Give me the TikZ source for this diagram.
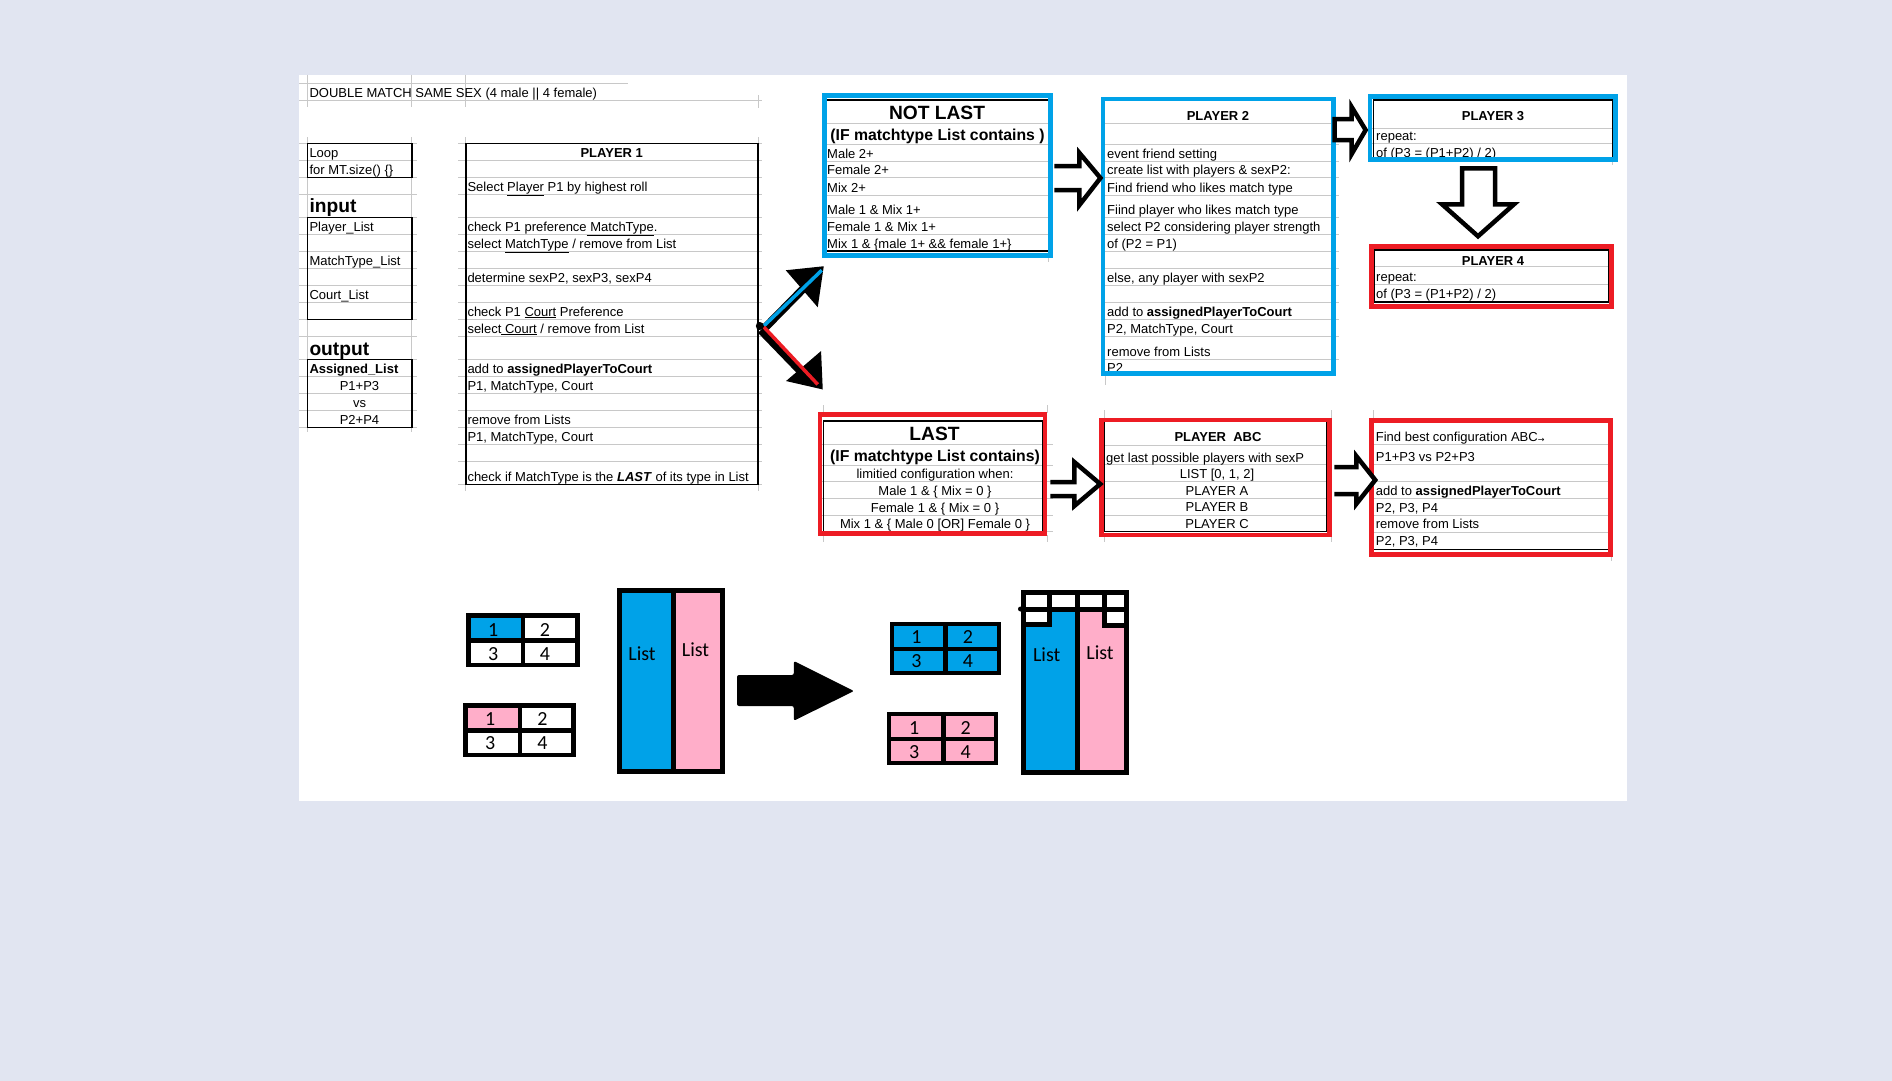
\documentclass[tikz,border=0pt]{standalone}
\usepackage{fontspec}
\setmainfont{Liberation Sans}
\newfontfamily\paintfnt{Carlito}
\newfontfamily\arrowfnt{DejaVu Sans}
\usetikzlibrary{calc}
\definecolor{bgc}{HTML}{E1E5F1}
\definecolor{pblue}{HTML}{00A2E8}
\definecolor{ppink}{HTML}{FFAEC9}
\definecolor{pred}{HTML}{ED1C24}
\definecolor{gridc}{HTML}{C8C8C8}
\newcommand{\sheetfnt}{\fontsize{13}{15}\selectfont}
\newcommand{\hugebold}{\fontsize{19.2}{22}\selectfont\bfseries}
\newcommand{\midbold}{\fontsize{15.8}{18}\selectfont\bfseries}
\newcommand{\paintsz}{\paintfnt\fontsize{20}{24}\selectfont}
\begin{document}
\begin{tikzpicture}[x=1pt,y=-1pt,
  tl/.style={inner sep=0pt, anchor=base west, font=\sheetfnt},
  tc/.style={inner sep=0pt, anchor=base, font=\sheetfnt},
  pt/.style={inner sep=0pt, anchor=center, font=\paintsz},
  gl/.style={draw=gridc, line width=1pt},
  tbox/.style={draw=black, line width=1.6pt, inner sep=0pt},
  ibox/.style={draw=black, line width=1.3pt},
  cbox/.style={draw=#1, line width=4.5pt, inner sep=0pt},
  hollow/.style={draw=black, fill=white, line width=4.5pt, line join=miter},
  pline/.style={line width=4.5pt},
]
\useasboundingbox (0,0) rectangle (1892,1081);
\fill[bgc] (0,0) rectangle (1892,1081);
\fill[white] (299,74.5) rectangle (1627,800.5);

% ---------- grid lines ----------
\draw[gl] (299,83.3) -- (628,83.3);
\draw[gl] (299,100.7) -- (762,100.7);
\foreach \x in {307.3,411.7,465.7} \draw[gl] (\x,74.5) -- (\x,107);
\draw[gl] (758,95) -- (758,108);
\foreach \y in {143.3,160.7,177.3,194.3,217.3,234.3,251.3,268.3,285.3,302.3,319.3,336.3,359.3,376.3,393.3,410.3,427.3}
  \draw[gl] (299,\y) -- (417,\y);
\draw[gl] (307.3,137) -- (307.3,432);
\draw[gl] (411.7,137) -- (411.7,432);
\foreach \y in {143.3,160.7,177.3,194.3,217.3,234.3,251.3,268.3,285.3,302.3,319.3,336.3,359.3,376.3,393.3,410.3,427.3,444.3,461.3,484.3}
  \draw[gl] (458,\y) -- (762,\y);
\draw[gl] (465.7,137) -- (465.7,491);
\draw[gl] (758,137) -- (758,491);
\foreach \y in {123.3,144.3,161,177.7,195,217.7,234.3}
  \draw[gl] (822,\y) -- (1052,\y);
\draw[gl] (1048.6,255) -- (1048.6,262);
\foreach \y in {123.3,144.3,161,177.7,195,217.7,234.3,251,268.3,285,302.3,319.3,336.7,359}
  \draw[gl] (1101,\y) -- (1339,\y);
\draw[gl] (1105.7,374) -- (1105.7,385);
\foreach \y in {128.3,143.3} \draw[gl] (1368,\y) -- (1617,\y);
\draw[gl] (1612.7,160) -- (1612.7,165);
\foreach \y in {266.7,284} \draw[gl] (1372,\y) -- (1610,\y);
\foreach \y in {444.3,465,481.7,498.3,515,531.7} \draw[gl] (820,\y) -- (1053,\y);
\foreach \x in {823.8,1047.6} {\draw[gl] (\x,405) -- (\x,413); \draw[gl] (\x,535) -- (\x,542);}
\foreach \y in {445,464.3,481.7,498.3,515} \draw[gl] (1101,\y) -- (1331,\y);
\foreach \x in {1104.4,1331.7} {\draw[gl] (\x,410) -- (\x,418); \draw[gl] (\x,537) -- (\x,542);}
\foreach \y in {444.3,464.3,481.7,498.3,515,532.3} \draw[gl] (1372,\y) -- (1611,\y);
\draw[gl] (1373.3,410) -- (1373.3,418);
\draw[gl] (1611.7,555) -- (1611.7,561);

% ---------- black spreadsheet boxes ----------
\node[tbox, minimum width=104.4pt, minimum height=34pt] (loop) at (359.5,160.3) {};
\node[tbox, minimum width=104.4pt, minimum height=102pt] (inbox) at (359.5,268.3) {};
\node[tbox, minimum width=104.4pt, minimum height=68pt] (outbox) at (359.5,393.3) {};
\node[tbox, minimum width=292pt, minimum height=341pt] (p1) at (611.7,313.8) {};

% inner black lines of coloured boxes
\draw[ibox] (826,100) -- (1049,100);
\draw[ibox] (826,251) -- (1049,251);
\draw[ibox] (1373.3,158) -- (1373.3,100) -- (1612.7,100) -- (1612.7,158);
\draw[ibox] (1374,250) rectangle (1609,302);
\draw[ibox] (823.8,421) rectangle (1043,532);
\draw[ibox] (1104.8,421.7) rectangle (1326.5,531.7);
\draw[ibox] (1374,549.3) -- (1608,549.3);

% ---------- texts ----------
\node[tl] (title) at (309.3,97.5) {DOUBLE MATCH SAME SEX (4 male || 4 female)};
\node[tl] (loopa) at (309.3,157.5) {Loop};
\node[tl] (loopb) at (309.3,174) {for MT.size() \{\}};
\node[tl, font=\hugebold] (inp) at (309.3,212.7) {input};
\node[tl] (pl) at (309.3,231) {Player\_List};
\node[tl] (mtl) at (309.3,265) {MatchType\_List};
\node[tl] (cl) at (309.3,299) {Court\_List};
\node[tl, font=\hugebold] (outp) at (309.3,355) {output};
\node[tl] (al) at (309.3,373) {\textbf{Assigned\_List}};
\node[tc] (o1) at (359.5,390) {P1+P3};
\node[tc] (o2) at (359.5,407) {vs};
\node[tc] (o3) at (359.5,424) {P2+P4};

\node[tc] (p1t) at (611.7,157.5) {\textbf{PLAYER 1}};
\node[tl] (p1a) at (467.3,191) {Select \underline{Player} P1 by highest roll};
\node[tl] (p1b) at (467.3,231) {check P1 preference\underline{\ MatchType}.};
\node[tl] (p1c) at (467.3,248) {select \underline{MatchType} / remove from List};
\node[tl] (p1d) at (467.3,282) {determine sexP2, sexP3, sexP4};
\node[tl] (p1e) at (467.3,316) {check P1 \underline{Court} Preference};
\node[tl] (p1f) at (467.3,333) {select\underline{\ Court} / remove from List};
\node[tl] (p1g) at (467.3,373) {add to \textbf{assignedPlayerToCourt}};
\node[tl] (p1h) at (467.3,390) {P1, MatchType, Court};
\node[tl] (p1i) at (467.3,424) {remove from Lists};
\node[tl] (p1j) at (467.3,441) {P1, MatchType, Court};
\node[tl] (p1k) at (467.3,481) {check if MatchType is the \textbf{\textit{LAST}} of its type in List};

\node[tc, font=\hugebold] (nl1) at (937,119.3) {NOT LAST};
\node[tc, font=\midbold] (nl2) at (937.5,140) {(IF matchtype List contains )};
\node[tl] (nl3) at (827,158) {Male 2+};
\node[tl] (nl4) at (827,174.7) {Female 2+};
\node[tl] (nl5) at (827,192) {Mix 2+};
\node[tl] (nl6) at (827,214.7) {Male 1 \& Mix 1+};
\node[tl] (nl7) at (827,231.3) {Female 1 \& Mix 1+};
\node[tl] (nl8) at (827,248) {Mix 1 \& \{male 1+ \&\& female 1+\}};

\node[tc] (p2t) at (1218,120) {\textbf{PLAYER 2}};
\node[tl] (p2a) at (1107,158) {event friend setting};
\node[tl] (p2b) at (1107,174.7) {create list with players \& sexP2:};
\node[tl] (p2c) at (1107,192) {Find friend who likes match type};
\node[tl] (p2d) at (1107,214.7) {Fiind player who likes match type};
\node[tl] (p2e) at (1107,231.3) {select P2 considering player strength};
\node[tl] (p2f) at (1107,248) {of (P2 = P1)};
\node[tl] (p2g) at (1107,282) {else, any player with sexP2};
\node[tl] (p2h) at (1107,316) {add to \textbf{assignedPlayerToCourt}};
\node[tl] (p2i) at (1107,333) {P2, MatchType, Court};
\node[tl] (p2j) at (1107,356) {remove from Lists};
\node[tl] (p2k) at (1107,372.5) {P2};

\node[tc] (p3t) at (1493,120) {\textbf{PLAYER 3}};
\node[tl] (p3a) at (1376,140) {repeat:};
\node[tl] (p3b) at (1376,157.5) {of (P3 = (P1+P2) / 2)};

\node[tc] (p4t) at (1493,265) {\textbf{PLAYER 4}};
\node[tl] (p4a) at (1376,281.7) {repeat:};
\node[tl] (p4b) at (1376,298.5) {of (P3 = (P1+P2) / 2)};

\node[tc, font=\hugebold] (l1) at (934.5,440) {LAST};
\node[tc, font=\midbold] (l2) at (935,461.5) {(IF matchtype List contains)};
\node[tc] (l3) at (935,478.3) {limitied configuration when:};
\node[tc] (l4) at (935,495.5) {Male 1 \& \{ Mix = 0 \}};
\node[tc] (l5) at (935,512.2) {Female 1 \& \{ Mix = 0 \}};
\node[tc] (l6) at (935,528.8) {Mix 1 \& \{ Male 0 [OR] Female 0 \}};

\node[tc] (a1) at (1218,441) {\textbf{PLAYER\ \ ABC}};
\node[tl] (a2) at (1106,462) {get last possible players with sexP};
\node[tc] (a3) at (1217,478.3) {LIST [0, 1, 2]};
\node[tc] (a4) at (1217,495) {PLAYER A};
\node[tc] (a5) at (1217,511.7) {PLAYER B};
\node[tc] (a6) at (1217,528.7) {PLAYER C};

\node[tl] (f1) at (1375.7,441.7) {Find best configuration ABC{\arrowfnt\fontsize{8}{8}\selectfont\raisebox{-1pt}{→}}};
\node[tl] (f2) at (1375.7,461.8) {P1+P3 vs P2+P3};
\node[tl] (f3) at (1375.7,495.3) {add to \textbf{assignedPlayerToCourt}};
\node[tl] (f4) at (1375.7,512) {P2, P3, P4};
\node[tl] (f5) at (1375.7,528.7) {remove from Lists};
\node[tl] (f6) at (1375.7,545.5) {P2, P3, P4};

% ---------- coloured frames ----------
\node[cbox=pblue, minimum width=226pt, minimum height=160pt] (notlast) at (937.7,175.5) {};
\node[cbox=pblue, minimum width=230.3pt, minimum height=274.3pt] (p2) at (1218.35,236.35) {};
\node[cbox=pblue, minimum width=245.6pt, minimum height=63pt] (p3) at (1492.7,128) {};
\node[cbox=pred, minimum width=240.4pt, minimum height=60.4pt] (p4) at (1491.5,276.5) {};
\node[cbox=pred, minimum width=225.2pt, minimum height=118.9pt] (last) at (932.6,474.15) {};
\node[cbox=pred, minimum width=227.6pt, minimum height=115pt] (abc) at (1215.5,477.5) {};
\node[cbox=pred, minimum width=238.6pt, minimum height=133.6pt] (final) at (1491,487.5) {};

% ---------- hollow block arrows ----------
\draw[hollow] ($(notlast.east)+(1.5,-9.5)$) -- ++(25,0) -- ++(0,-13) -- ++(21,25) -- ++(-21,27) -- ++(0,-15) -- ++(-25,0);
\draw[hollow] ($(p3.west)+(-33,-9)$) -- ++(17,0) -- ++(0,-12) -- ++(14,23) -- ++(-14,24) -- ++(0,-14) -- ++(-17,0) -- cycle;
\draw[hollow] ($(p3.south)+(-30.7,6.5)$) -- ++(33,0) -- ++(0,36) -- ++(19,0) -- ++(-36,32) -- ++(-36,-32) -- ++(20,0) -- cycle;
\draw[hollow] ($(last.east)+(2.8,7.85)$) -- ++(24,0) -- ++(0,-20) -- ++(26,22) -- ++(-26,22) -- ++(0,-10) -- ++(-24,0);
\draw[hollow] ($(abc.east)+(2.7,-10.5)$) -- ++(22,0) -- ++(0,-11) -- ++(19,24) -- ++(-19,24) -- ++(0,-10) -- ++(-22,0);

% ---------- painted fork arrows ----------
\coordinate (fork) at ($(p1.east)+(1.3,12.2)$);
\coordinate (btip) at ($(notlast.south west)+(-0.7,12.5)$);
\coordinate (rtip) at ($(last.north west)+(0,-28)$);
\fill (btip) ++(-36,0) -- ++(38,-4) -- ++(-6,41) -- cycle;
\draw[line width=8pt] ($(fork)+(3,4)$) -- ($(btip)+(-18,18)$);
\draw[pblue, line width=3.5pt] ($(fork)+(4,0)$) -- (btip);
\fill (rtip) ++(-31.7,-3.4) -- ++(36.7,8.4) -- ++(-1.7,-38.4) -- cycle;
\draw[line width=8pt] ($(fork)+(1,4)$) -- ($(rtip)+(-14,-10)$);
\draw[pred, line width=3.5pt] ($(fork)+(4,1)$) -- (rtip);
\fill (fork) circle (4);

% ---------- painted illustration ----------
% table 1
\fill[pblue] (468.7,615.5) rectangle (522.8,640.5);
\draw[pline] (468.7,615.5) rectangle (577.3,665);
\draw[pline] (522.8,615.5) -- (522.8,665);
\draw[pline] (468.7,640.5) -- (577.3,640.5);
\node[pt] (t1a) at (493.3,630) {1};
\node[pt] (t1b) at (545,630) {2};
\node[pt] (t1c) at (493.3,654) {3};
\node[pt] (t1d) at (545,654) {4};
% table 2
\fill[ppink] (465.6,705.5) rectangle (520,730.7);
\draw[pline] (465.6,705.5) rectangle (573.7,755.1);
\draw[pline] (520,705.5) -- (520,755.1);
\draw[pline] (465.6,730.7) -- (573.7,730.7);
\node[pt] (t2a) at (490.2,719.3) {1};
\node[pt] (t2b) at (542.4,719.3) {2};
\node[pt] (t2c) at (490.2,743.3) {3};
\node[pt] (t2d) at (542.4,743.3) {4};
% big list (before)
\fill[pblue] (619.9,590.8) rectangle (673.2,771.5);
\fill[ppink] (673.2,590.8) rectangle (722.9,771.5);
\draw[line width=5pt] (619.9,590.8) rectangle (722.9,771.5);
\draw[line width=5pt] (673.2,590.8) -- (673.2,771.5);
\node[pt] (lst1) at (642,653.3) {List};
\node[pt] (lst2) at (695.5,650) {List};
% black arrow
\fill[rounded corners=2pt] (737,675) -- (793.8,675) -- (793.8,661) -- (854,691) -- (793.8,720.7) -- (793.8,706) -- (737,706) -- cycle;
% table 3
\fill[pblue] (891.9,623.9) rectangle (999.1,672.8);
\draw[pline] (891.9,623.9) rectangle (999.1,672.8);
\draw[pline] (945.5,623.9) -- (945.5,672.8);
\draw[pline] (891.9,649) -- (999.1,649);
\node[pt] (t3a) at (916.5,637.3) {1};
\node[pt] (t3b) at (967.9,637.3) {2};
\node[pt] (t3c) at (916.5,661) {3};
\node[pt] (t3d) at (967.9,661) {4};
% table 4
\fill[ppink] (888.8,713.9) rectangle (996,762.8);
\draw[pline] (888.8,713.9) rectangle (996,762.8);
\draw[pline] (943.3,713.9) -- (943.3,762.8);
\draw[pline] (888.8,739) -- (996,739);
\node[pt] (t4a) at (914.3,727.7) {1};
\node[pt] (t4b) at (965.6,727.7) {2};
\node[pt] (t4c) at (914.3,751.7) {3};
\node[pt] (t4d) at (965.6,751.7) {4};
% big list (after)
\fill[pblue] (1023.5,609.2) rectangle (1077.5,772.5);
\fill[ppink] (1077.5,609.2) rectangle (1126.8,772.5);
\fill[white] (1023.5,611.7) rectangle (1047.7,621.7);
\fill[white] (1106.7,611.7) rectangle (1126.8,622.7);
\draw[line width=5pt] (1023.5,592.5) rectangle (1126.8,772.5);
\draw[line width=5pt] (1023.5,609.2) -- (1126.8,609.2);
\draw[line width=5pt] (1077.5,592.5) -- (1077.5,772.5);
\draw[line width=5pt] (1049.7,592.5) -- (1049.7,624.2) -- (1023.5,624.2);
\draw[line width=5pt] (1104.2,592.5) -- (1104.2,625.2) -- (1126.8,625.2);
\fill (1020.5,609) circle (2.5);
\node[pt] (lst3) at (1046.7,655) {List};
\node[pt] (lst4) at (1100,652.7) {List};
\end{tikzpicture}
\end{document}
